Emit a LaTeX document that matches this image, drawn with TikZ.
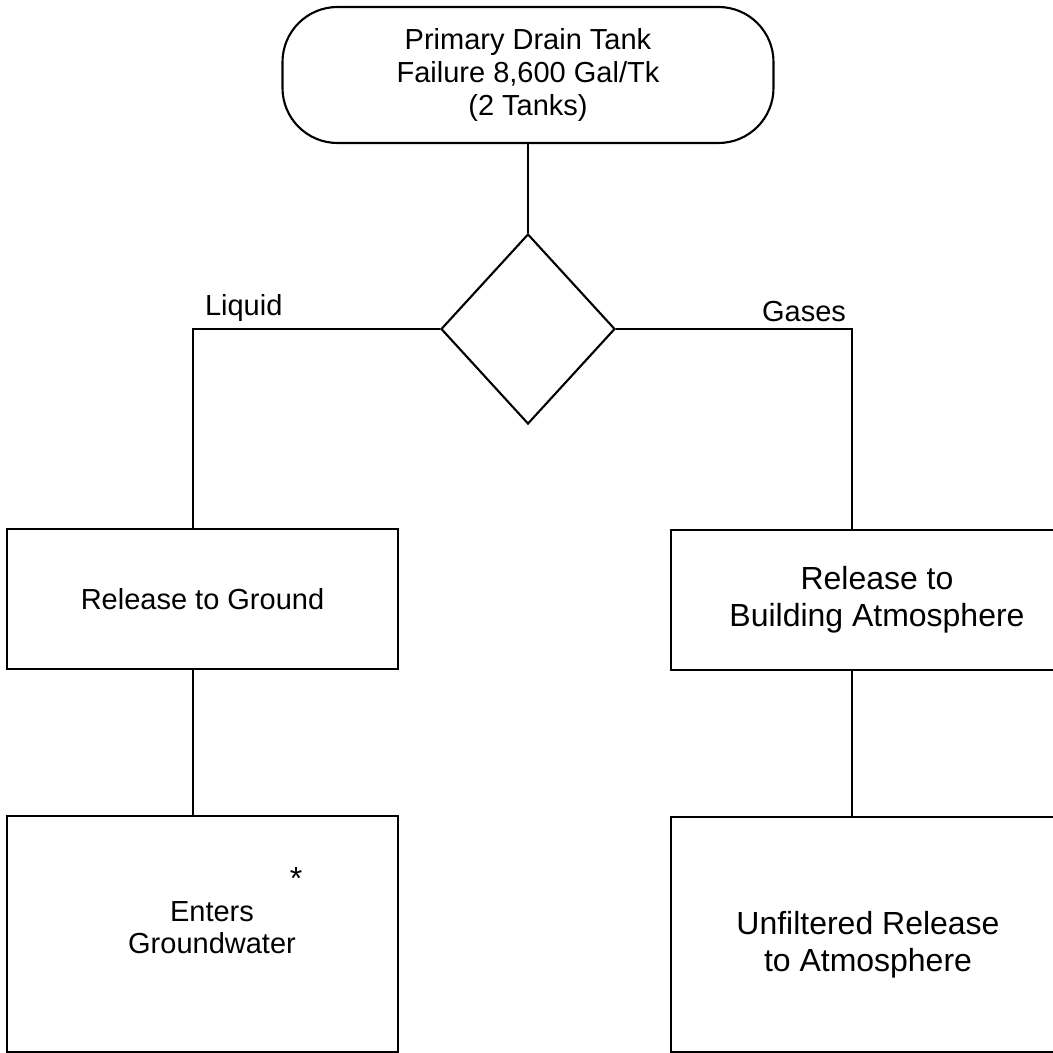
\documentclass[tikz,border=0pt]{standalone}
\usepackage{fontspec}
\setmainfont{Liberation Sans}
\usetikzlibrary{shapes.geometric}

\begin{document}
\begin{tikzpicture}[line width=0.6pt,
  box/.style={draw, rectangle, inner sep=0pt},
  small/.style={font=\fontsize{8.25}{8.7}\selectfont, align=center},
  big/.style={font=\fontsize{9.1}{10.4}\selectfont, align=center}]
\useasboundingbox (0,0) rectangle (10.53,10.53);
\clip (0,0) rectangle (10.53,10.53);

\node (T1) at (5.28,9.78) [draw, rounded corners=0.55cm, minimum width=4.91cm, minimum height=1.36cm, small, font=\fontsize{8.25}{9.3}\selectfont] {Primary Drain Tank\\Failure 8,600 Gal/Tk\\(2 Tanks)};
\node (Q1) at (5.28,7.24) [draw, diamond, minimum width=1.74cm, minimum height=1.90cm, inner sep=0pt] {};

\node (B1) at (2.025,4.54) [box, minimum width=3.91cm, minimum height=1.40cm, small] {Release to Ground};
\node (B2) at (2.025,1.19) [box, minimum width=3.91cm, minimum height=2.36cm] {};
\node (B3) at (8.77,4.53) [box, minimum width=4.12cm, minimum height=1.40cm, big] {Release to\\Building Atmosphere};
\node (B4) at (8.665,1.185) [box, minimum width=3.91cm, minimum height=2.35cm] {};

\node (G1) at (2.12,1.25) [small, font=\fontsize{8.25}{9.1}\selectfont] {Enters\\Groundwater};
\node (S1) at (2.96,1.75) [big] {*};
\node (U1) at (8.68,1.08) [big] {Unfiltered Release\\to Atmosphere};

\node (N1) at (2.04,7.37) [anchor=base west, inner sep=0pt, small] {Liquid};
\node (N2) at (8.47,7.31) [anchor=base east, inner sep=0pt, small] {Gases};

\coordinate (L1) at (1.93,7.24);
\coordinate (R1) at (8.52,7.24);

\draw (T1) -- (Q1);
\draw (Q1.west) -- (L1) -- (L1 |- B1.north);
\draw (L1 |- B1.south) -- (L1 |- B2.north);
\draw (Q1.east) -- (R1) -- (R1 |- B3.north);
\draw (R1 |- B3.south) -- (R1 |- B4.north);

\end{tikzpicture}
\end{document}
